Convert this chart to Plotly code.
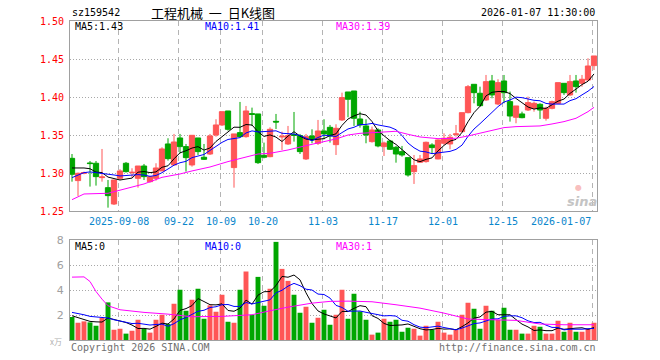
import plotly.graph_objects as go
import pandas as pd

symbol = "sz159542"
title_text = "工程机械&nbsp;&nbsp;一&nbsp;&nbsp;日K线图"
timestamp = "2026-01-07 11:30:00"

opens = [1.3197, 1.2904, 1.3000, 1.3136, 1.3132, 1.2943, 1.2811, 1.2596, 1.2934, 1.3132,
         1.3009, 1.2934, 1.3096, 1.2890, 1.2934, 1.3031, 1.3386, 1.3110, 1.3465, 1.3351,
         1.3110, 1.3465, 1.3211, 1.3254, 1.3504, 1.3636, 1.3820, 1.3075, 1.3535, 1.3482,
         1.3785, 1.3781, 1.3237, 1.3219, 1.3684, 1.3478, 1.3386, 1.3509, 1.3496, 1.3189,
         1.3491, 1.3395, 1.3557, 1.3605, 1.3377, 1.3702, 1.4070, 1.4083, 1.3715, 1.3623,
         1.3417, 1.3570, 1.3351, 1.3425, 1.3342, 1.3285, 1.3206, 1.3022, 1.3145, 1.3154,
         1.3373, 1.3189, 1.3395, 1.3386, 1.3509, 1.3548, 1.3798, 1.4171, 1.4053, 1.3965,
         1.4215, 1.3912, 1.4215, 1.3943, 1.3737, 1.3781, 1.3833, 1.3855, 1.3908, 1.3724,
         1.3855, 1.3921, 1.4184, 1.4031, 1.4215, 1.4184, 1.4228, 1.4417]
highs = [1.3254, 1.3009, 1.3022, 1.3162, 1.3162, 1.3320, 1.2912, 1.2912, 1.3053, 1.3149,
         1.3066, 1.3096, 1.3123, 1.2965, 1.3132, 1.3342, 1.3461, 1.3518, 1.3518, 1.3386,
         1.3500, 1.3465, 1.3386, 1.3518, 1.3711, 1.3811, 1.3820, 1.3518, 1.3939, 1.3886,
         1.3864, 1.3781, 1.3404, 1.3605, 1.3781, 1.3548, 1.3623, 1.3807, 1.3518, 1.3518,
         1.3579, 1.3702, 1.3711, 1.3636, 1.3645, 1.4061, 1.4070, 1.4083, 1.3811, 1.3711,
         1.3614, 1.3592, 1.3417, 1.3439, 1.3360, 1.3360, 1.3206, 1.3241, 1.3241, 1.3417,
         1.3395, 1.3447, 1.3526, 1.3518, 1.3636, 1.3798, 1.4162, 1.4171, 1.4140, 1.4294,
         1.4294, 1.4237, 1.4294, 1.4075, 1.3886, 1.3811, 1.4009, 1.3943, 1.3921, 1.3877,
         1.3956, 1.4193, 1.4184, 1.4294, 1.4294, 1.4294, 1.4513, 1.4544]
lows = [1.2890, 1.2702, 1.2987, 1.2825, 1.2838, 1.2890, 1.2548, 1.2583, 1.2912, 1.3009,
        1.2947, 1.2811, 1.2912, 1.2877, 1.2904, 1.3031, 1.3167, 1.3110, 1.3263, 1.3022,
        1.3088, 1.3241, 1.3175, 1.3241, 1.3482, 1.3623, 1.3561, 1.2811, 1.3474, 1.3469,
        1.3623, 1.3123, 1.3197, 1.3211, 1.3583, 1.3307, 1.3373, 1.3417, 1.3254, 1.3175,
        1.3395, 1.3373, 1.3447, 1.3404, 1.3241, 1.3689, 1.3737, 1.3623, 1.3601, 1.3395,
        1.3404, 1.3342, 1.3228, 1.3307, 1.3140, 1.3219, 1.2956, 1.2860, 1.3140, 1.3140,
        1.3254, 1.3184, 1.3373, 1.3316, 1.3482, 1.3535, 1.3789, 1.3921, 1.3877, 1.3952,
        1.3987, 1.3899, 1.3921, 1.3680, 1.3658, 1.3724, 1.3820, 1.3811, 1.3715, 1.3693,
        1.3842, 1.3912, 1.4031, 1.4018, 1.4061, 1.4140, 1.4215, 1.4360]
closes = [1.2987, 1.3000, 1.3009, 1.3128, 1.2956, 1.2952, 1.2706, 1.2912, 1.3031, 1.3022,
          1.3013, 1.3096, 1.2956, 1.2956, 1.3070, 1.3320, 1.3193, 1.3412, 1.3351, 1.3206,
          1.3500, 1.3285, 1.3184, 1.3491, 1.3636, 1.3811, 1.3579, 1.3518, 1.3482, 1.3820,
          1.3776, 1.3140, 1.3211, 1.3579, 1.3675, 1.3487, 1.3496, 1.3500, 1.3285, 1.3482,
          1.3439, 1.3557, 1.3518, 1.3491, 1.3592, 1.3996, 1.3974, 1.3724, 1.3636, 1.3504,
          1.3570, 1.3360, 1.3399, 1.3316, 1.3254, 1.3241, 1.2978, 1.3101, 1.3189, 1.3408,
          1.3338, 1.3439, 1.3461, 1.3474, 1.3518, 1.3798, 1.4140, 1.4061, 1.3890, 1.4206,
          1.4031, 1.4193, 1.4061, 1.3754, 1.3886, 1.3732, 1.3930, 1.3921, 1.3833, 1.3855,
          1.3943, 1.4193, 1.4061, 1.4206, 1.4140, 1.4237, 1.4412, 1.4544]
volumes = [1.84, 1.38, 1.49, 1.41, 1.14, 1.76, 3.01, 0.82, 0.90, 0.51,
           0.74, 1.62, 0.88, 0.59, 1.62, 2.02, 1.28, 2.90, 4.02, 2.34,
           3.22, 4.10, 1.70, 2.77, 2.26, 3.62, 1.46, 1.38, 4.02, 5.48,
           2.02, 5.05, 2.74, 4.10, 7.85, 5.69, 4.73, 3.62, 2.18, 2.66,
           1.38, 1.78, 2.42, 1.22, 2.02, 4.02, 1.70, 3.70, 2.29, 1.62,
           0.43, 0.59, 1.70, 1.46, 1.62, 0.66, 0.98, 0.90, 0.35, 1.14,
           0.82, 1.46, 0.59, 0.43, 0.82, 2.02, 2.98, 2.50, 0.90, 2.74,
           2.34, 1.62, 2.58, 0.82, 0.82, 0.51, 0.51, 1.14, 1.06, 0.51,
           0.51, 1.54, 0.66, 1.38, 0.66, 0.66, 0.90, 1.38]

tick_idx = [8, 18, 25, 32, 42, 52, 62, 72, 87]
tick_text = ["2025-09-08", "09-22", "10-09", "10-20", "11-03", "11-17", "12-01", "12-15", "2026-01-07"]

price_ticks = [1.25, 1.30, 1.35, 1.40, 1.45, 1.50]
price_tick_text = ["1.25", "1.30", "1.35", "1.40", "1.45", "1.50"]
vol_ticks = [2, 4, 6, 8]
vol_tick_text = ["2", "4", "6", "8"]

# moving-average values visible before enough in-window history exists
ma5_head = [1.307, 1.307, 1.307, 1.306]
ma10_head = [1.2943, 1.2978, 1.3009, 1.3018, 1.3009, 1.3000, 1.2996, 1.2978, 1.2965]
ma30_idx = [0, 2, 6, 8, 10, 12, 15, 18, 20, 23, 26, 29, 31, 33, 36, 39, 42, 44, 46, 48,
            51, 54, 56, 58, 61, 64, 66, 68, 70, 72, 74, 78, 80, 82, 84, 86, 87]
ma30_vals = [1.2653, 1.2728, 1.2737, 1.2781, 1.2825, 1.2860, 1.2947, 1.2991, 1.3031, 1.3083,
             1.3154, 1.3219, 1.3254, 1.3263, 1.3307, 1.3364, 1.3417, 1.3452, 1.3504, 1.3526,
             1.3539, 1.3553, 1.3513, 1.3478, 1.3456, 1.3461, 1.3491, 1.3526, 1.3561, 1.3601,
             1.3614, 1.3623, 1.3649, 1.3680, 1.3724, 1.3811, 1.3868]
vma5_head = [1.94, 1.81, 1.62, 1.49]
vma10_head = [2.21, 2.13, 2.02, 1.89, 1.84, 1.81, 1.76, 1.62, 1.52]
vma30_idx = [0, 2, 3, 4, 5, 6, 8, 12, 16, 20, 25, 30, 33, 36, 40, 43, 46, 50, 54, 58,
             62, 66, 70, 74, 78, 82, 87]
vma30_vals = [5.03, 5.05, 4.68, 3.88, 3.27, 2.74, 2.42, 2.21, 2.07, 1.86, 1.89, 2.02, 2.34,
              2.63, 2.95, 3.09, 3.11, 3.06, 2.82, 2.55, 2.15, 1.68, 1.62, 1.57, 1.28, 1.22, 1.22]

ma_labels = ["MA5:1.43", "MA10:1.41", "MA30:1.39"]
vma_labels = ["MA5:0", "MA10:0", "MA30:1"]

RED = "#ff5656"
GREEN = "#00a600"
MONO = "DejaVu Sans Mono"

x = list(range(len(closes)))


def rolling(vals, n, head):
    r = pd.Series(vals).rolling(n).mean().tolist()
    return head + r[len(head):]


ma5 = rolling(closes, 5, ma5_head)
ma10 = rolling(closes, 10, ma10_head)
vma5 = rolling(volumes, 5, vma5_head)
vma10 = rolling(volumes, 10, vma10_head)
vcolors = [RED if c >= o else GREEN for o, c in zip(opens, closes)]

fig = go.Figure()
fig.add_trace(go.Candlestick(
    x=x, open=opens, high=highs, low=lows, close=closes,
    increasing=dict(line=dict(color=RED, width=1), fillcolor=RED),
    decreasing=dict(line=dict(color=GREEN, width=1), fillcolor=GREEN),
    whiskerwidth=0, xaxis="x", yaxis="y", hoverinfo="skip"))
fig.add_trace(go.Scatter(x=x, y=ma5, mode="lines", line=dict(color="#000000", width=1),
                         xaxis="x", yaxis="y", hoverinfo="skip"))
fig.add_trace(go.Scatter(x=x, y=ma10, mode="lines", line=dict(color="#0000ff", width=1),
                         xaxis="x", yaxis="y", hoverinfo="skip"))
fig.add_trace(go.Scatter(x=ma30_idx, y=ma30_vals, mode="lines", line=dict(color="#ff00ff", width=1),
                         xaxis="x", yaxis="y", hoverinfo="skip"))

fig.add_trace(go.Bar(x=x, y=volumes, marker=dict(color=vcolors, line=dict(width=0)), width=0.82,
                     xaxis="x2", yaxis="y2", hoverinfo="skip"))
fig.add_trace(go.Scatter(x=x, y=vma5, mode="lines", line=dict(color="#000000", width=1),
                         xaxis="x2", yaxis="y2", hoverinfo="skip"))
fig.add_trace(go.Scatter(x=x, y=vma10, mode="lines", line=dict(color="#0000ff", width=1),
                         xaxis="x2", yaxis="y2", hoverinfo="skip"))
fig.add_trace(go.Scatter(x=vma30_idx, y=vma30_vals, mode="lines", line=dict(color="#ff00ff", width=1),
                         xaxis="x2", yaxis="y2", hoverinfo="skip"))

L, R, T, B = 70, 597, 20, 340
W, H = R - L, B - T


def px(xp):
    return (xp - L) / W


def py(yp):
    return (B - yp) / H


xr = [-0.333, 87.5]
grid_x = [t - 0.25 for t in tick_idx]
xcommon = dict(range=xr, tickvals=grid_x, showticklabels=False, ticks="",
               showgrid=True, gridcolor="#b4b4b4", griddash="5px,4px", gridwidth=1,
               showline=True, mirror=True, linecolor="#a0a0a0", linewidth=1, zeroline=False,
               fixedrange=True)

fig.update_layout(
    width=660, height=360,
    margin=dict(l=L, r=660 - R, t=T, b=360 - B, pad=0),
    paper_bgcolor="white", plot_bgcolor="white",
    showlegend=False, hovermode=False,
    boxgap=0.12, boxgroupgap=0.0,
    xaxis=dict(domain=[0, 1], anchor="y", rangeslider=dict(visible=False), **xcommon),
    xaxis2=dict(domain=[0, 1], anchor="y2", matches="x", **xcommon),
    yaxis=dict(domain=[py(211.3), py(21.3)], range=[1.25, 1.50], tickvals=price_ticks,
               ticktext=price_tick_text, tickfont=dict(family=MONO, size=10, color="#ff0000"),
               ticks="outside", ticklen=3, tickcolor="rgba(0,0,0,0)",
               showgrid=True, gridcolor="#a8a8a8", griddash="1px,2px",
               showline=True, mirror=True, linecolor="#a0a0a0", linewidth=1, zeroline=False),
    yaxis2=dict(domain=[0, py(240)], range=[0, 8], tickvals=vol_ticks, ticktext=vol_tick_text,
                tickfont=dict(family="DejaVu Sans", size=11, color="#a0a0a0"),
                ticks="outside", ticklen=3, tickcolor="rgba(0,0,0,0)",
                showgrid=True, gridcolor="#a8a8a8", griddash="1px,2px",
                showline=True, mirror=True, linecolor="#a0a0a0", linewidth=1, zeroline=False),
)

ann = []


def add_text(text, xp, yp, color="#000000", size=10, family=MONO, xanchor="left"):
    ann.append(dict(text=text, x=px(xp), y=py(yp), xref="paper", yref="paper",
                    xanchor=xanchor, yanchor="middle", showarrow=False,
                    font=dict(family=family, size=size, color=color)))


add_text(symbol, 70, 12)
add_text(title_text, 213, 12, size=13, family="Noto Sans CJK SC", xanchor="center")
add_text(timestamp, 597, 12, xanchor="right")
ma_colors = ["#000000", "#0000ff", "#ff00ff"]
ma_x = [73, 203, 334]
for t, c, xx in zip(ma_labels, ma_colors, ma_x):
    add_text(t, xx, 26.5, color=c)
for t, c, xx in zip(vma_labels, ma_colors, ma_x):
    add_text(t, xx, 246, color=c)
add_text("Copyright 2026 SINA.COM", 69, 347, color="#707070")
add_text("http://finance.sina.com.cn", 598, 347, color="#707070", xanchor="right")
add_text("x万", 64, 341, color="#b0b0b0", size=8, family="Noto Sans CJK SC", xanchor="right")
add_text("<b><i>sina</i></b>", 582, 201, color="#c4c4c4", size=13, family="DejaVu Sans", xanchor="center")
add_text("●", 578, 187, color="rgba(240,110,110,0.45)", size=8, family="DejaVu Sans", xanchor="center")

for i, (t, txt) in enumerate(zip(grid_x, tick_text)):
    ann.append(dict(text=txt, x=t, y=py(221.5), xref="x", yref="paper",
                    xanchor="right" if i == len(tick_text) - 1 else "center",
                    yanchor="middle", showarrow=False,
                    font=dict(family=MONO, size=10, color="#0a86cc")))

fig.update_layout(annotations=ann)

fig.write_html("out.html", config={"displayModeBar": False, "staticPlot": True},
               post_script="document.body.style.margin='0px';")
